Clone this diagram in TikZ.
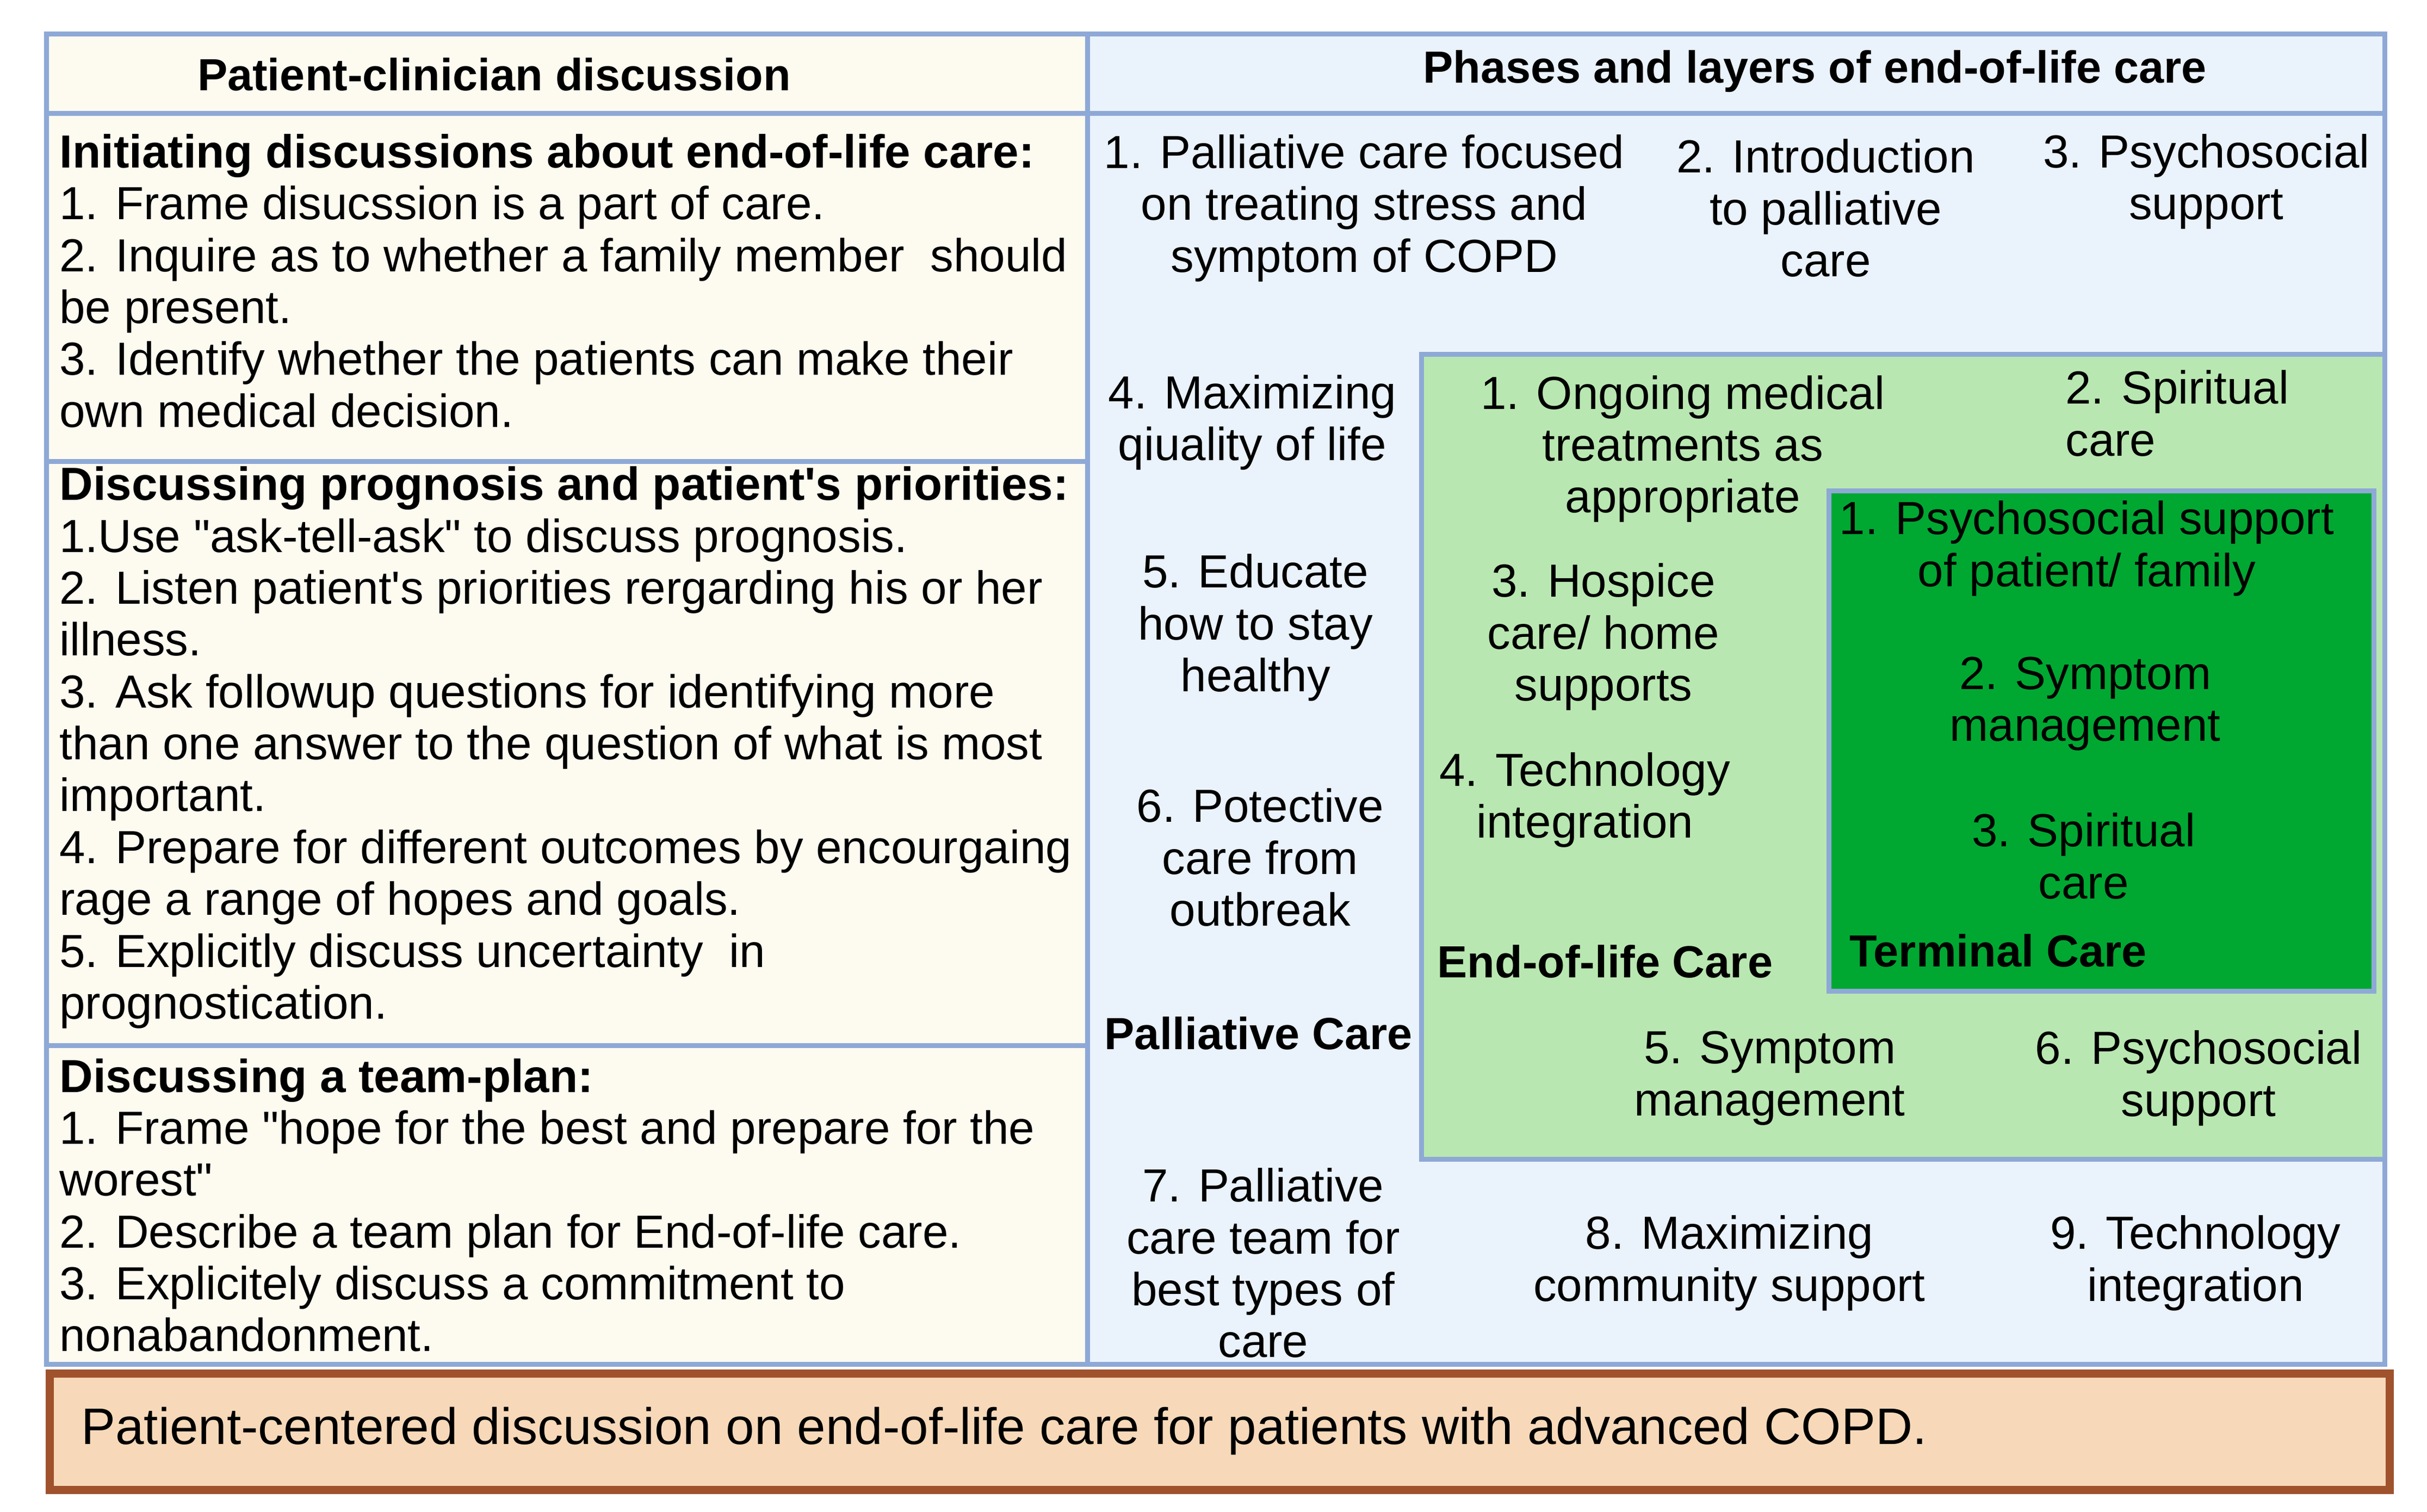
\documentclass[tikz,border=0pt]{standalone}
\usepackage{fontspec}
\setmainfont{Liberation Sans}
\definecolor{bord}{HTML}{8EA9D6}
\definecolor{cream}{HTML}{FDFAF0}
\definecolor{lblue}{HTML}{EAF2FB}
\definecolor{lgreen}{HTML}{B9E7B1}
\definecolor{dgreen}{HTML}{00A832}
\definecolor{peach}{HTML}{F7D9B9}
\definecolor{brown}{HTML}{A0522D}
\newcommand{\dq}{\textquotedbl}
\newcommand{\sq}{\textquotesingle}
\begin{document}
\begin{tikzpicture}[x={(0.02cm,0)},y={(0,-0.02cm)},
  panel/.style={draw=bord,line width=1.8pt},
  txt/.style={font=\fontsize{17}{19}\selectfont,align=center,inner sep=0},
  ltxt/.style={font=\fontsize{17}{19}\selectfont,align=left,anchor=north west,inner sep=0},
  hd/.style={font=\fontsize{16.5}{19}\selectfont\bfseries,inner sep=0}]
\useasboundingbox (0,0) rectangle (1562,973);
\fill[white] (0,0) rectangle (1562,973);
% left panel
\draw[panel,fill=cream] (30,22) rectangle (700,73);
\draw[panel,fill=cream] (30,73) rectangle (700,297);
\draw[panel,fill=cream] (30,297) rectangle (700,673);
\draw[panel,fill=cream] (30,673) rectangle (700,878);
% right panel
\draw[panel,fill=lblue] (700,22) rectangle (1535,73);
\draw[panel,fill=lblue] (700,73) rectangle (1535,878);
\draw[panel,fill=lgreen] (915,228) rectangle (1535,746);
\draw[panel,fill=dgreen] (1177,316) rectangle (1528,638);
% bottom
\draw[draw=brown,line width=3pt,fill=peach] (32,884) rectangle (1538,959);
\node[anchor=west,inner sep=0,font=\fontsize{18.8}{21}\selectfont] (bt) at (52,921) {Patient-centered discussion on end-of-life care for patients with advanced COPD.};
% headers
\node[hd] (h1) at (318,48) {Patient-clinician discussion};
\node[hd] (h2) at (1168,46) {Phases and layers of end-of-life care};
% left texts
\node[ltxt] (l1) at (38,86) {\textbf{Initiating discussions about end-of-life care:}\\
1. Frame disucssion is a part of care.\\
2. Inquire as to whether a family member\ \ should\\
be present.\\
3. Identify whether the patients can make their\\
own medical decision.};
\node[ltxt] (l2) at (38,300) {\textbf{Discussing prognosis and patient\sq s priorities:}\\
1.Use \dq ask-tell-ask\dq\ to discuss prognosis.\\
2. Listen patient\sq s priorities rergarding his or her\\
illness.\\
3. Ask followup questions for identifying more\\
than one answer to the question of what is most\\
important.\\
4. Prepare for different outcomes by encourgaing\\
rage a range of hopes and goals.\\
5. Explicitly discuss uncertainty\ \ in\\
prognostication.};
\node[ltxt] (l3) at (38,681) {\textbf{Discussing a team-plan:}\\
1. Frame \dq hope for the best and prepare for the\\
worest\dq\\
2. Describe a team plan for End-of-life care.\\
3. Explicitely discuss a commitment to\\
nonabandonment.};
% palliative layer
\node[txt] (p1) at (878,134) {1. Palliative care focused\\on treating stress and\\symptom of COPD};
\node[txt] (p2) at (1175,134) {2. Introduction\\to palliative\\care};
\node[txt] (p3) at (1420,117) {3. Psychosocial\\support};
\node[txt] (p4) at (806,272) {4. Maximizing\\qiuality of life};
\node[txt] (p5) at (808,404) {5. Educate\\how to stay\\healthy};
\node[txt] (p6) at (811,552) {6. Potective\\care from\\outbreak};
\node[hd] (pc) at (810,665) {Palliative Care};
\node[txt] (p7) at (813,813) {7. Palliative\\care team for\\best types of\\care};
\node[txt] (p8) at (1113,813) {8. Maximizing\\community support};
\node[txt] (p9) at (1413,813) {9. Technology\\integration};
% end-of-life layer
\node[txt] (e1) at (1083,289) {1. Ongoing medical\\treatments as\\appropriate};
\node[ltxt] (e2) at (1329,238) {2. Spiritual\\care};
\node[txt] (e3) at (1032,410) {3. Hospice\\care/ home\\supports};
\node[txt] (e4) at (1020,515) {4. Technology\\integration};
\node[hd] (ec) at (1033,619) {End-of-life Care};
\node[txt] (e5) at (1139,694) {5. Symptom\\management};
\node[txt] (e6) at (1415,694) {6. Psychosocial\\support};
% terminal
\node[txt] (t1) at (1343,353) {1. Psychosocial support\\of patient/ family};
\node[txt] (t2) at (1342,453) {2. Symptom\\management};
\node[txt] (t3) at (1341,551) {3. Spiritual\\care};
\node[hd,anchor=west] (tc) at (1190,612) {Terminal Care};
\end{tikzpicture}
\end{document}
